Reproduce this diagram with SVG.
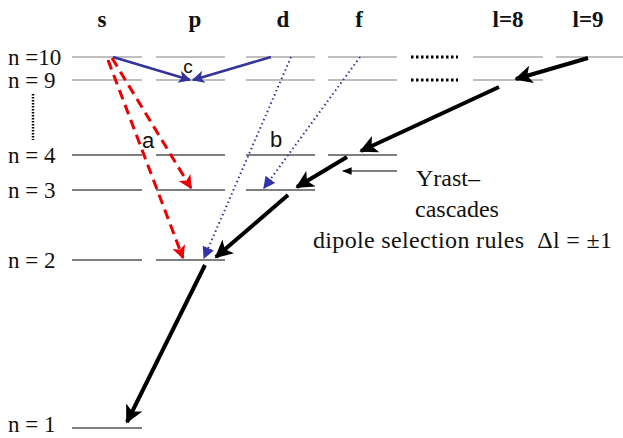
<svg xmlns="http://www.w3.org/2000/svg" width="623" height="438" viewBox="0 0 623 438">
<defs>
<marker id="ab" viewBox="0 0 10 10" refX="9" refY="5" markerWidth="4.5" markerHeight="4.5" orient="auto" markerUnits="strokeWidth"><path d="M0,0 L10,5 L0,10 L2.5,5 z" fill="#000"/></marker>
<marker id="athin" viewBox="0 0 10 10" refX="9" refY="5" markerWidth="8" markerHeight="8" orient="auto" markerUnits="strokeWidth"><path d="M0,1 L10,5 L0,9 z" fill="#000"/></marker>
<marker id="ac" viewBox="0 0 10 10" refX="9" refY="5" markerWidth="5" markerHeight="5" orient="auto" markerUnits="strokeWidth"><path d="M0,0 L10,5 L0,10 L2.5,5 z" fill="#33339a"/></marker>
<marker id="ar" viewBox="0 0 10 10" refX="9" refY="5" markerWidth="4.5" markerHeight="4.5" orient="auto" markerUnits="strokeWidth"><path d="M0,0 L10,5 L0,10 L2.5,5 z" fill="#e00"/></marker>
<marker id="ad" viewBox="0 0 10 10" refX="9" refY="5" markerWidth="6" markerHeight="6" orient="auto" markerUnits="strokeWidth"><path d="M0,0 L10,5 L0,10 z" fill="#3333aa"/></marker>
</defs>
<style>
.t{font-family:"Liberation Serif",serif;font-size:23px;fill:#111}
.y{font-family:"Liberation Serif",serif;font-size:24px;fill:#111}
.h{font-family:"Liberation Serif",serif;font-size:23px;font-weight:bold;fill:#111}
.ss{font-family:"Liberation Sans",sans-serif;font-size:22px;fill:#111}
.g{stroke:#aaa;stroke-width:1.5;fill:none}
.k{stroke:#000;stroke-width:1.2;fill:none}
.big{stroke:#000;stroke-width:4;fill:none;marker-end:url(#ab)}
.red{stroke:#e00;stroke-width:3;stroke-dasharray:10 6;fill:none;marker-end:url(#ar)}
.blu{stroke:#33339a;stroke-width:2.5;fill:none;marker-end:url(#ac)}
.dot{stroke:#3333aa;stroke-width:2;stroke-dasharray:1.5 3;fill:none;marker-end:url(#ad)}
</style>
<g id="headers">
<text class="h" x="102" y="27" text-anchor="middle">s</text>
<text class="h" x="195" y="27" text-anchor="middle">p</text>
<text class="h" x="283" y="27" text-anchor="middle">d</text>
<text class="h" x="359" y="27" text-anchor="middle">f</text>
<text class="h" x="508" y="27" text-anchor="middle">l=8</text>
<text class="h" x="588" y="27" text-anchor="middle">l=9</text>
</g>
<g id="labels">
<text class="t" x="8" y="65">n =10</text>
<text class="t" x="8" y="88">n = 9</text>
<text class="t" x="8" y="163">n = 4</text>
<text class="t" x="8" y="198">n = 3</text>
<text class="t" x="8" y="268">n = 2</text>
<text class="t" x="8" y="432">n = 1</text>
<line x1="33" y1="94" x2="33" y2="140" stroke="#000" stroke-width="2.5" stroke-dasharray="1.5 1.5"/>
</g>
<g id="levels">
<path class="g" d="M72,57H142M156,57H225M246,57H315M328,57H397M473,57H543M556,57H623"/>
<path class="g" d="M72,80H142M156,80H225M246,80H315M328,80H397M473,80H543"/>
<path d="M411,57H458M411,80H458" stroke="#000" stroke-width="3" stroke-dasharray="2.5 2.5"/>
<path class="k" d="M72,155H142M156,155H225M246,155H315M328,155H397"/>
<path class="k" d="M72,190H142M156,190H225M246,190H315"/>
<path class="k" d="M72,260H142M156,260H225"/>
<path class="k" d="M72,428H142"/>
</g>
<g id="connectors">
<line class="blu" x1="113" y1="57" x2="190" y2="80"/>
<line class="blu" x1="271" y1="57" x2="193" y2="80"/>
<line class="red" x1="112" y1="58" x2="191" y2="188"/>
<line class="red" x1="108" y1="60" x2="183" y2="258"/>
<line class="dot" x1="291" y1="57" x2="204" y2="258"/>
<line class="dot" x1="360" y1="57" x2="264" y2="188"/>
<line class="big" x1="588" y1="58" x2="516" y2="79"/>
<line class="big" x1="499" y1="87" x2="361" y2="151"/>
<line class="big" x1="347" y1="157" x2="297" y2="187"/>
<line class="big" x1="288" y1="195" x2="216" y2="257"/>
<line class="big" x1="205" y1="265" x2="127" y2="422"/>
<line x1="397" y1="171" x2="343" y2="171" stroke="#000" stroke-width="1.2" marker-end="url(#athin)"/>
</g>
<g id="annotations">
<text class="ss" x="188" y="73" text-anchor="middle" style="font-size:19px">c</text>
<text class="ss" x="148" y="148" text-anchor="middle">a</text>
<text class="ss" x="276" y="147" text-anchor="middle">b</text>
<text class="y" x="416" y="186">Yrast–</text>
<text class="y" x="415" y="217">cascades</text>
<text class="y" x="313" y="248" xml:space="preserve" textLength="299" lengthAdjust="spacing">dipole selection rules  Δl = ±1</text>
</g>
</svg>
